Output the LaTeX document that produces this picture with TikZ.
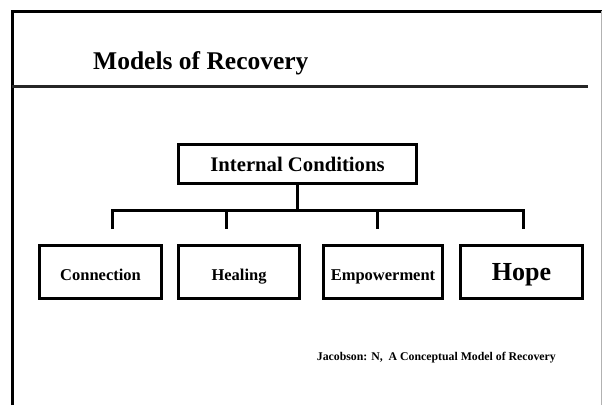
\documentclass[tikz,border=0pt]{standalone}
\usepackage{fontspec}
\setmainfont{Liberation Serif}
\begin{document}
\begin{tikzpicture}[x=1pt,y=-1pt,
  box/.style={draw=black,line width=3.2pt,rectangle,inner sep=0pt,font=\bfseries\fontsize{16.5}{20}\selectfont,
    minimum height=53pt,text height=16pt,text depth=0pt},
  conn/.style={line width=3pt,black}]
\useasboundingbox (0,0) rectangle (602,405);
\fill[white] (0,0) rectangle (602,405);
% frame
\draw[line width=3pt] (12,405) -- (12,11) -- (602,11);
\draw[black!30, line width=1pt] (601.3,11) -- (601.3,405);
\draw[line width=3pt, black!85] (12,86) -- (588,86);
\node[anchor=base west, font=\fontsize{25.5}{30}\selectfont\bfseries, inner sep=0pt] (title) at (93,69) {Models of Recovery};
% top box
\node[box, minimum width=238pt, minimum height=39pt, text height=15.4pt, font=\bfseries\fontsize{20.7}{24}\selectfont] (ic) at (297.5,164) {Internal Conditions};
% bottom boxes
\node[box, minimum width=122pt] (con) at (100.5,272) {Connection};
\node[box, minimum width=121pt] (hea) at (239,272) {Healing};
\node[box, minimum width=119pt] (emp) at (383,272) {Empowerment};
\node[box, minimum width=122pt, font=\bfseries\fontsize{26}{30}\selectfont] (hop) at (521.5,272) {Hope};
% connectors
\coordinate (bj) at (297.5,210);
\coordinate (bl) at (112,210);
\coordinate (br) at (523,210);
\coordinate (t1) at (112,229);
\coordinate (t2) at (226,210);
\coordinate (t2e) at (226,229);
\coordinate (t3) at (377,210);
\coordinate (t3e) at (377,229);
\coordinate (t4) at (523,229);
\draw[conn] (ic.south) -- (bj);
\draw[conn] (t1) -- (bl) -- (br) -- (t4);
\draw[conn] (t2) -- (t2e);
\draw[conn] (t3) -- (t3e);
% citation
\node[anchor=base west, inner sep=0pt, font=\bfseries\fontsize{11.8}{14}\selectfont] (cite) at (316.7,360) {Jacobson: N,\ \ A Conceptual Model of Recovery};
\end{tikzpicture}
\end{document}
